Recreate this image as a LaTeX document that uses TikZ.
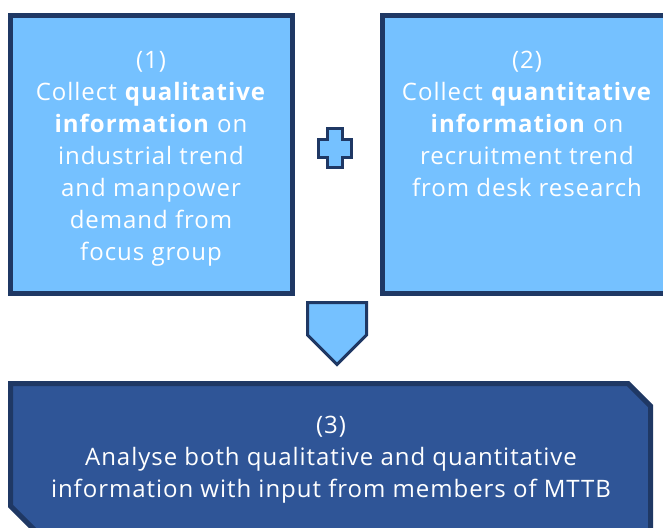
\documentclass[tikz,border=0pt]{standalone}
\usepackage{fontspec}
\setmainfont{Open Sans}[LetterSpace=4]
\definecolor{lightfill}{RGB}{117,193,255}
\definecolor{navyline}{RGB}{31,56,100}
\definecolor{deepfill}{RGB}{47,85,151}
\begin{document}
\begin{tikzpicture}[x=1pt,y=-1pt,
  lightbox/.style={fill=lightfill,draw=navyline,line width=5pt,line join=miter},
  lightsym/.style={fill=lightfill,draw=navyline,line width=3pt,line join=miter},
  deepbox/.style={fill=deepfill,draw=navyline,line width=5pt,line join=miter},
  label/.style={text=white,align=center,font=\fontsize{24}{32}\selectfont,inner sep=0pt}]
\useasboundingbox (0,0) rectangle (663,527);
\clip (0,0) rectangle (663,527);

% step (1) and step (2) boxes
\draw[lightbox] (10.5,15.5) rectangle (292.5,293.5);
\draw[lightbox] (382.5,15.5) rectangle (675,293.5);

% plus sign between the two boxes
\draw[lightsym] (327.5,128.5) -- (342.5,128.5) -- (342.5,139.5) -- (351.5,139.5)
  -- (351.5,157.5) -- (342.5,157.5) -- (342.5,167.5) -- (327.5,167.5)
  -- (327.5,157.5) -- (318.5,157.5) -- (318.5,139.5) -- (327.5,139.5) -- cycle;

% downward arrow
\draw[lightsym] (307.5,302.5) -- (366.5,302.5) -- (366.5,335) -- (337,364.5)
  -- (307.5,335) -- cycle;

% step (3) box with snipped corners
\draw[deepbox] (10.5,383.5) -- (628,383.5) -- (650.5,406) -- (650.5,560)
  -- (64.5,560) -- (10.5,506) -- cycle;

\node[label] (one) at (151,159) {(1)\\Collect \textbf{qualitative}\\\textbf{information} on\\industrial trend\\and manpower\\demand from\\focus group};
\node[label] (two) at (527,124) {(2)\\Collect \textbf{quantitative}\\\textbf{information} on\\recruitment trend\\from desk research};
\node[label] (three) at (331,460) {(3)\\Analyse both qualitative and quantitative\\information with input from members of MTTB};
\end{tikzpicture}
\end{document}
